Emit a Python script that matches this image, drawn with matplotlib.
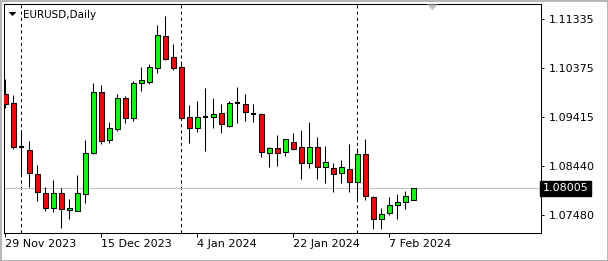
import matplotlib
matplotlib.use("Agg")
import matplotlib.pyplot as plt
from matplotlib.patches import Polygon, Rectangle

# EURUSD daily candles, 29 Nov 2023 .. 12 Feb 2024
opens = [1.09864, 1.09680, 1.08822, 1.08760, 1.08282, 1.07908, 1.07612, 1.07908,
         1.07569, 1.07565, 1.07888, 1.08711, 1.09899, 1.08954, 1.09168, 1.09779,
         1.09385, 1.10075, 1.10110, 1.10370, 1.11006, 1.10589, 1.10405, 1.09405,
         1.09188, 1.09419, 1.09405, 1.09484, 1.09239, 1.09682, 1.09661, 1.09468,
         1.09464, 1.08696, 1.08794, 1.08715, 1.08912, 1.08814, 1.08499, 1.08814,
         1.08420, 1.08400, 1.08302, 1.08380, 1.08136, 1.08678, 1.07841, 1.07395,
         1.07513, 1.07671, 1.07730, 1.07770]
highs = [1.10159, 1.09844, 1.09155, 1.08938, 1.08465, 1.08028, 1.08170, 1.08012,
         1.07795, 1.08268, 1.08958, 1.10080, 1.10035, 1.09306, 1.09854, 1.09824,
         1.10120, 1.10396, 1.10455, 1.11223, 1.11400, 1.10849, 1.10469, 1.09647,
         1.09726, 1.09976, 1.09779, 1.09663, 1.09726, 1.09996, 1.09858, 1.09661,
         1.09484, 1.08826, 1.09056, 1.08977, 1.09095, 1.09155, 1.09312, 1.09023,
         1.08845, 1.08510, 1.08564, 1.08879, 1.08794, 1.08977, 1.07854, 1.07612,
         1.07835, 1.07894, 1.07949, 1.08006]
lows = [1.09582, 1.08780, 1.08282, 1.08022, 1.07762, 1.07565, 1.07533, 1.07230,
        1.07401, 1.07553, 1.07722, 1.08682, 1.08873, 1.08904, 1.09141, 1.09283,
        1.09338, 1.09929, 1.10067, 1.10272, 1.10534, 1.10331, 1.09352, 1.08904,
        1.09121, 1.08747, 1.09200, 1.09086, 1.09220, 1.09283, 1.09338, 1.09318,
        1.08617, 1.08432, 1.08451, 1.08642, 1.08760, 1.08189, 1.08396, 1.08189,
        1.08116, 1.07939, 1.08105, 1.07939, 1.07789, 1.07776, 1.07204, 1.07204,
        1.07474, 1.07405, 1.07604, 1.07766]
closes = [1.09667, 1.08826, 1.08818, 1.08317, 1.07927, 1.07612, 1.07908, 1.07592,
          1.07614, 1.07908, 1.08696, 1.09897, 1.08928, 1.09188, 1.09779, 1.09385,
          1.10075, 1.10140, 1.10390, 1.11026, 1.10559, 1.10370, 1.09385, 1.09188,
          1.09405, 1.09415, 1.09466, 1.09267, 1.09680, 1.09678, 1.09503, 1.09464,
          1.08715, 1.08794, 1.08711, 1.08971, 1.08786, 1.08499, 1.08814, 1.08420,
          1.08518, 1.08282, 1.08420, 1.08136, 1.08678, 1.07860, 1.07395, 1.07494,
          1.07671, 1.07736, 1.07848, 1.08005]

tick_idx = [0, 12, 24, 36, 48]
tick_lbl = ["29 Nov 2023", "15 Dec 2023", "4 Jan 2024", "22 Jan 2024", "7 Feb 2024"]
sep_idx = [2, 22, 44]
price_ticks = [1.11335, 1.10375, 1.09415, 1.08440, 1.07480]
last_price = 1.08005

W, H = 608, 261
fig = plt.figure(figsize=(W / 100, H / 100), dpi=100)
fig.patch.set_facecolor("white")
ax = fig.add_axes([4 / W, 28 / H, 537 / W, 229 / H])
ax.set_facecolor("white")

x = list(range(len(opens)))
lw = 0.75

# wicks
ax.vlines(x, lows, highs, color="black", lw=lw, zorder=2)

# bodies
for i in x:
    o, c = opens[i], closes[i]
    col = "#00ff00" if c > o else "#ff0000"
    if abs(c - o) < 0.00006:
        ax.hlines(o, i - 0.3, i + 0.3, color="black", lw=1.5, zorder=3)
        continue
    ax.bar(i, abs(c - o), bottom=min(o, c), width=0.55, color=col,
           edgecolor="black", linewidth=lw, zorder=3)

# period separators
for s in sep_idx:
    ax.axvline(s, color="black", lw=lw, ls=(0, (3, 3)), zorder=1)

# current price line
ax.axhline(last_price, color="#c0c0c0", lw=lw, zorder=1)

ax.set_xlim(-0.1625, 66.96)
ax.set_ylim(1.07125, 1.11637)

for sp in ax.spines.values():
    sp.set_color("black")
    sp.set_linewidth(lw)

ax.yaxis.tick_right()
ax.set_yticks(price_ticks)
ax.set_yticklabels(["%.5f" % p for p in price_ticks])
ax.tick_params(axis="y", length=2.5, width=lw, pad=3, labelsize=8, colors="black")

ax.set_xticks(tick_idx)
ax.set_xticklabels(tick_lbl, ha="left")
ax.tick_params(axis="x", length=3, width=lw, pad=1, labelsize=8, colors="black")
for t in ax.get_xticklabels():
    t.set_x(t.get_position()[0])
    t.set_horizontalalignment("left")

# last price box on the price scale
ax.text(1.0035, last_price, "%.5f" % last_price, transform=ax.get_yaxis_transform(),
        ha="left", va="center", fontsize=8, color="white", zorder=5,
        bbox=dict(boxstyle="square,pad=0.22", fc="black", ec="black"), clip_on=False)

# title and small markers
fig.text(23 / W, 1 - 15 / H, "EURUSD,Daily", fontsize=7.5, color="black",
         ha="left", va="center")
fig.add_artist(Polygon([[8.5 / W, 1 - 12 / H], [16.5 / W, 1 - 12 / H], [12.5 / W, 1 - 16 / H]],
                       closed=True, fc="black", ec="none", transform=fig.transFigure))
fig.add_artist(Polygon([[427 / W, 1 - 4.5 / H], [438 / W, 1 - 4.5 / H], [432.5 / W, 1 - 10 / H]],
                       closed=True, fc="#c0c0c0", ec="none", transform=fig.transFigure))

# window frame
fig.add_artist(Rectangle((0.5 / W, 0.5 / H), 1 - 1 / W, 1 - 1 / H, fill=False,
                         ec="#a8a8a8", lw=1.2, transform=fig.transFigure))

fig.savefig("out.png", dpi=100)
